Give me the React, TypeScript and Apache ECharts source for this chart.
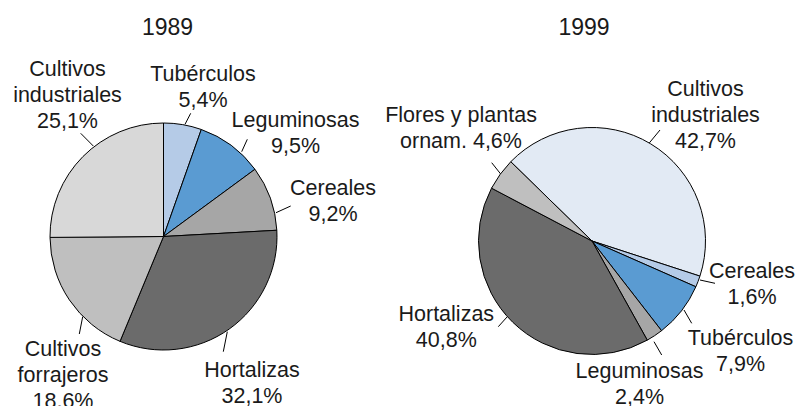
import React, { useEffect, useRef } from 'react';
import * as echarts from 'echarts';

// ---- Data ----
const titles = ['1989', '1999'];

const names1989 = ['Tubérculos', 'Leguminosas', 'Cereales', 'Hortalizas', 'Cultivos\nforrajeros', 'Cultivos\nindustriales'];
const values1989 = [5.4, 9.5, 9.2, 32.1, 18.6, 25.1];

const names1999 = ['Cultivos\nindustriales', 'Cereales', 'Tubérculos', 'Leguminosas', 'Hortalizas', 'Flores y plantas\nornam.'];
const values1999 = [42.7, 1.6, 7.9, 2.4, 40.8, 4.6];

// ---- Styles / layout ----
const colors1989 = ['#b5cbe7', '#5a9bd2', '#a6a6a6', '#6b6b6b', '#bfbfbf', '#d8d8d8'];
const colors1999 = ['#e2eaf4', '#b5cbe7', '#5a9bd2', '#a6a6a6', '#6b6b6b', '#bfbfbf'];

const sep1989 = ['\n', '\n', '\n', '\n', '\n', '\n'];
const sep1999 = ['\n', '\n', '\n', '\n', '\n', ' '];

const center1989: [number, number] = [163.5, 236.5];
const center1999: [number, number] = [592, 241];
const pieRadius = 113.5;
const titleX = [167.5, 584];
const titleY = 27;

// label block centres relative to pie centre
const labelPos1989 = [[39.5, -150], [132, -103.5], [169.5, -35.5], [88.5, 146.5], [-100.5, 138.5], [-96, -141.5]];
const labelPos1999 = [[113.5, -126.5], [160, 43], [148.5, 109.6], [47.5, 143], [-145.7, 86], [-131, -113]];
// leader lines relative to pie centre: x1, y1, x2, y2
const leader1989 = [
  [21.5, -112.2, 27.2, -123.2],
  [78.2, -84.8, 83.8, -97.2],
  [112.5, -23.8, 127.2, -30.5],
  [63.8, 95.2, 59.8, 115.2],
  [-80.8, 80.2, -84.2, 97.5],
  [-70.2, -90.5, -82.8, -103.2],
];
const leader1999 = [
  [57, -97.7, 68, -111],
  [108, 39, 123, 42.3],
  [92, 69, 99.7, 82.3],
  [62, 100.7, 69.7, 114],
  [-85, 76, -93.7, 85.7],
  [-91.3, -67, -100.3, -78.3],
];

const FONT = '"Liberation Sans", Arial, Helvetica, sans-serif';
const TEXT_COLOR = '#1a1a1a';

function fmt(v: number) {
  return v.toFixed(1).replace('.', ',') + '%';
}

function makeSeries(
  names: string[],
  values: number[],
  colors: string[],
  seps: string[],
  center: [number, number],
  startAngle: number,
  labelPos: number[][],
  leader: number[][]
) {
  return {
    type: 'pie',
    center,
    radius: pieRadius,
    startAngle,
    clockwise: true,
    avoidLabelOverlap: false,
    silent: true,
    emphasis: { disabled: true },
    data: names.map((n, i) => ({ name: n, value: values[i], itemStyle: { color: colors[i] } })),
    itemStyle: { borderColor: '#000', borderWidth: 1 },
    label: {
      show: true,
      position: 'outside',
      formatter: (p: any) => p.name + seps[p.dataIndex] + fmt(p.value),
      fontSize: 21.5,
      lineHeight: 26,
      color: TEXT_COLOR,
      fontFamily: FONT,
      align: 'center',
    },
    labelLine: { show: true, length: 10, length2: 0, lineStyle: { color: '#000', width: 1 } },
    labelLayout: (params: any) => {
      const i = params.dataIndex;
      const lp = labelPos[i];
      const ll = leader[i];
      return {
        x: center[0] + lp[0],
        y: center[1] + lp[1],
        align: 'center',
        verticalAlign: 'middle',
        labelLinePoints: [
          [center[0] + ll[0], center[1] + ll[1]],
          [center[0] + ll[2], center[1] + ll[3]],
        ],
      };
    },
  };
}

export default function App() {
  const ref = useRef<HTMLDivElement>(null);
  useEffect(() => {
    if (!ref.current) return;
    const chart = echarts.init(ref.current, undefined, { renderer: 'svg' });
    chart.setOption({
      animation: false,
      backgroundColor: '#ffffff',
      textStyle: { fontFamily: FONT },
      title: titles.map((t, i) => ({
        text: t,
        left: titleX[i],
        top: titleY,
        padding: 0,
        textAlign: 'center',
        textVerticalAlign: 'middle',
        textStyle: { fontSize: 23, fontWeight: 'normal', fontFamily: FONT, color: TEXT_COLOR },
      })),
      series: [
        makeSeries(names1989, values1989, colors1989, sep1989, center1989, 90, labelPos1989, leader1989),
        makeSeries(names1999, values1999, colors1999, sep1999, center1999, 135.7, labelPos1999, leader1999),
      ],
    });
    return () => chart.dispose();
  }, []);
  return <div ref={ref} style={{ position: 'fixed', left: 0, top: 0, width: 795, height: 406 }} />;
}
